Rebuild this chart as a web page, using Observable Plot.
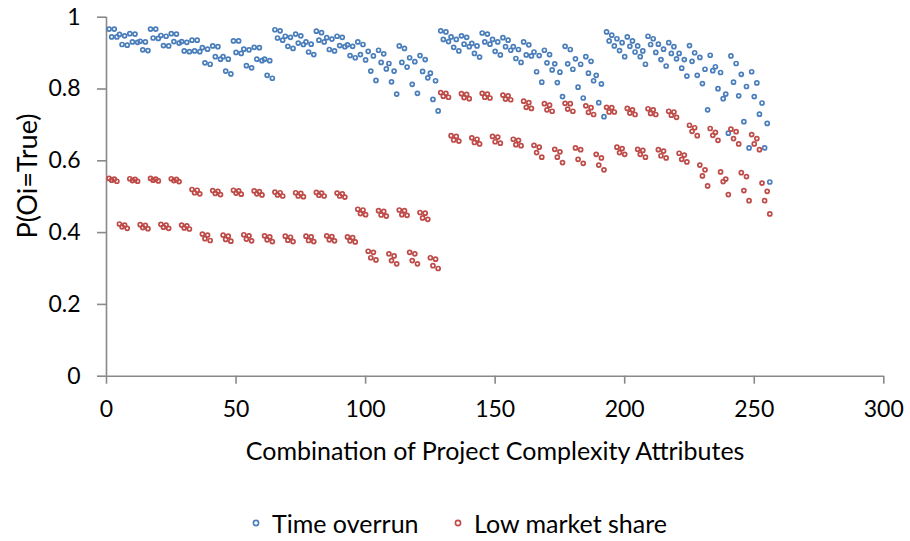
<!DOCTYPE html>
<html>
<head>
<meta charset="utf-8">
<script src="https://cdn.jsdelivr.net/npm/d3@7"></script>
<script src="https://cdn.jsdelivr.net/npm/@observablehq/plot@0.6"></script>
<style>
  html, body { margin: 0; padding: 0; background: #fff; }
  #chart { width: 910px; position: relative; }
  .ytitle { position: absolute; left: 26px; top: 176px; transform: translate(-50%, -50%) rotate(-90deg); font-family: Lato, "Open Sans", sans-serif; font-size: 27px; color: #000; white-space: nowrap; line-height: 1; }
  .legend { width: 910px; height: 61px; position: relative; font-family: Lato, "Open Sans", sans-serif; font-size: 25px; color: #000; }
  .legend .item { position: absolute; top: 28px; display: flex; align-items: center; height: 30px; white-space: nowrap; }
  .legend svg { margin-right: 10px; }
</style>
</head>
<body>
<div id="chart"></div>
<script>
// ---- data ----
const seriesNames = ["Time overrun", "Low market share"];
const seriesColors = ["#4A7EBB", "#BE4B48"];

const timeOverrun = [
  0.967,0.945,0.967,0.945, 0.952,0.924,0.948,0.922, 0.954,0.931,0.953,0.930, 0.933,0.909,0.931,0.907,
  0.967,0.942,0.967,0.941, 0.949,0.921,0.947,0.920, 0.954,0.932,0.953,0.928, 0.932,0.906,0.930,0.904,
  0.936,0.906,0.936,0.904, 0.915,0.873,0.911,0.869, 0.920,0.890,0.918,0.883, 0.890,0.850,0.883,0.842,
  0.934,0.902,0.934,0.899, 0.911,0.865,0.909,0.859, 0.916,0.883,0.915,0.879, 0.883,0.838,0.879,0.830,
  0.965,0.942,0.962,0.936, 0.947,0.919,0.944,0.913, 0.953,0.928,0.948,0.924, 0.931,0.903,0.925,0.896,
  0.961,0.936,0.957,0.931, 0.943,0.910,0.939,0.906, 0.947,0.921,0.944,0.918, 0.923,0.893,0.919,0.887,
  0.931,0.896,0.924,0.881, 0.905,0.850,0.892,0.824, 0.908,0.874,0.898,0.856, 0.871,0.820,0.850,0.786,
  0.920,0.874,0.913,0.861, 0.887,0.813,0.876,0.788, 0.893,0.849,0.882,0.831, 0.844,0.771,0.823,0.739,
  0.962,0.938,0.959,0.932, 0.945,0.916,0.938,0.906, 0.948,0.925,0.944,0.918, 0.927,0.899,0.920,0.889,
  0.956,0.931,0.953,0.925, 0.938,0.905,0.931,0.895, 0.943,0.918,0.936,0.908, 0.918,0.885,0.910,0.874,
  0.931,0.895,0.923,0.892, 0.903,0.848,0.893,0.819, 0.908,0.873,0.896,0.853, 0.870,0.818,0.847,0.779,
  0.919,0.870,0.910,0.855, 0.884,0.805,0.869,0.775, 0.890,0.844,0.877,0.823, 0.838,0.762,0.814,0.723,
  0.959,0.934,0.950,0.920, 0.940,0.907,0.929,0.890, 0.945,0.919,0.934,0.903, 0.920,0.890,0.906,0.869,
  0.947,0.924,0.940,0.902, 0.925,0.882,0.911,0.864, 0.929,0.899,0.918,0.884, 0.899,0.858,0.882,0.836,
  0.921,0.877,0.901,0.838, 0.888,0.815,0.855,0.742, 0.894,0.851,0.862,0.801, 0.846,0.773,0.786,0.677,
  0.892,0.819,0.871,0.781, 0.841,0.709,0.807,0.636, 0.848,0.779,0.817,0.730, 0.761,0.636,0.704,0.541
];

const lowMarketShare = [
  0.551,0.546,0.549,0.543, 0.424,0.416,0.421,0.412, 0.550,0.545,0.548,0.543, 0.422,0.414,0.420,0.411,
  0.551,0.546,0.549,0.544, 0.423,0.415,0.421,0.412, 0.550,0.545,0.548,0.542, 0.421,0.413,0.419,0.410,
  0.520,0.511,0.518,0.508, 0.396,0.383,0.393,0.378, 0.517,0.509,0.515,0.506, 0.393,0.381,0.390,0.376,
  0.518,0.510,0.516,0.507, 0.394,0.382,0.391,0.377, 0.516,0.508,0.514,0.505, 0.391,0.380,0.388,0.375,
  0.513,0.505,0.511,0.502, 0.390,0.379,0.387,0.375, 0.511,0.502,0.509,0.500, 0.390,0.378,0.388,0.375,
  0.512,0.504,0.510,0.502, 0.391,0.380,0.389,0.377, 0.510,0.502,0.508,0.499, 0.388,0.377,0.386,0.374,
  0.465,0.453,0.463,0.450, 0.348,0.330,0.345,0.324, 0.461,0.449,0.459,0.446, 0.341,0.322,0.335,0.313,
  0.463,0.450,0.461,0.448, 0.345,0.322,0.341,0.313, 0.456,0.441,0.454,0.437, 0.330,0.308,0.326,0.300,
  0.790,0.780,0.788,0.777, 0.670,0.658,0.668,0.655, 0.787,0.776,0.785,0.773, 0.664,0.651,0.660,0.647,
  0.788,0.777,0.786,0.775, 0.668,0.653,0.666,0.649, 0.783,0.772,0.781,0.770, 0.660,0.645,0.657,0.642,
  0.766,0.749,0.762,0.746, 0.643,0.623,0.638,0.610, 0.759,0.742,0.755,0.738, 0.632,0.610,0.625,0.595,
  0.760,0.744,0.759,0.738, 0.636,0.604,0.631,0.593, 0.753,0.735,0.748,0.729, 0.618,0.588,0.608,0.575,
  0.749,0.736,0.748,0.736, 0.638,0.623,0.634,0.618, 0.746,0.733,0.742,0.729, 0.632,0.618,0.629,0.610,
  0.745,0.732,0.742,0.729, 0.631,0.614,0.627,0.608, 0.738,0.727,0.736,0.721, 0.621,0.604,0.616,0.597,
  0.699,0.682,0.692,0.670, 0.588,0.558,0.575,0.530, 0.690,0.671,0.679,0.657, 0.569,0.542,0.549,0.506,
  0.688,0.662,0.681,0.647, 0.567,0.517,0.556,0.489, 0.673,0.647,0.662,0.631, 0.538,0.489,0.515,0.452
];

const combination = timeOverrun.map((_, i) => i + 1);
const xTicks = [0, 50, 100, 150, 200, 250, 300];
const yTicks = [0, 0.2, 0.4, 0.6, 0.8, 1];
const yTickLabels = ["0", "0.2", "0.4", "0.6", "0.8", "1"];
const xTitle = "Combination of Project Complexity Attributes";
const yTitle = "P(Oi=True)";

// ---- table for Plot ----
const rows = [];
seriesNames.forEach((name, s) => {
  const vals = s === 0 ? timeOverrun : lowMarketShare;
  vals.forEach((v, i) => rows.push({series: name, x: combination[i], y: v}));
});

const axisColor = "#898989";

const chart = Plot.plot({
  width: 910,
  height: 480,
  marginLeft: 106,
  marginRight: 26.7,
  marginTop: 16.7,
  marginBottom: 104.3,
  style: {fontFamily: "Lato, 'Open Sans', sans-serif", fontSize: "23px", color: "#000", background: "#fff"},
  x: {domain: [0, 300]},
  y: {domain: [0, 1]},
  color: {domain: seriesNames, range: seriesColors},
  marks: [
    Plot.ruleY([0], {stroke: axisColor, strokeWidth: 1.6}),
    Plot.ruleX([0], {stroke: axisColor, strokeWidth: 1.6}),
    Plot.axisX({ticks: xTicks, tickSize: 8, tickPadding: 16, stroke: axisColor, strokeWidth: 1.6, strokeOpacity: 1, fill: "#000", label: null, tickFormat: d => String(d)}),
    Plot.axisY({ticks: yTicks, tickSize: 9, tickPadding: 17, stroke: axisColor, strokeWidth: 1.6, strokeOpacity: 1, fill: "#000", label: null, tickFormat: (d, i) => yTickLabels[i]}),
    Plot.dot(rows, {x: "x", y: "y", stroke: "series", r: 2.0, strokeWidth: 1.7, fill: "white", fillOpacity: 0}),
    Plot.text([xTitle], {frameAnchor: "bottom", dy: 84, text: d => d, fill: "#000", fontSize: 25})
  ]
});
const host = document.getElementById("chart");
host.appendChild(chart);
const yt = document.createElement("div");
yt.className = "ytitle";
yt.textContent = yTitle;
host.appendChild(yt);

// ---- legend ----
const legend = document.createElement("div");
legend.className = "legend";
const positions = [250, 452];
seriesNames.forEach((name, s) => {
  const item = document.createElement("div");
  item.className = "item";
  item.style.left = positions[s] + "px";
  item.innerHTML = `<svg width="12" height="12"><circle cx="6" cy="6" r="2.6" fill="none" stroke="${seriesColors[s]}" stroke-width="1.6"/></svg><span>${name}</span>`;
  legend.appendChild(item);
});
document.body.appendChild(legend);
</script>
</body>
</html>
